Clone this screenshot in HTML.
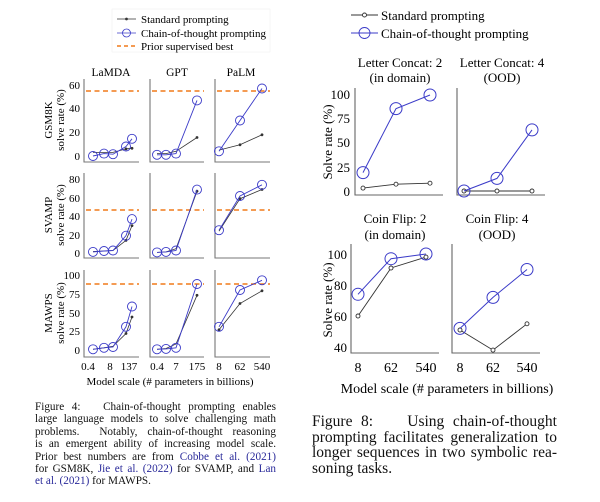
<!DOCTYPE html>
<html><head><meta charset="utf-8"><style>
html,body{margin:0;padding:0;background:#fff;}
svg{display:block;font-family:"Liberation Serif",serif;}
.cap{position:absolute;font-family:"Liberation Serif",serif;color:#111;}
.cap div{text-align:justify;text-align-last:justify;white-space:nowrap;}
.cap div.l{text-align-last:left;}
.cap a{color:#2a2a9a;text-decoration:none;}
</style></head><body>
<div style="position:relative;width:600px;height:502px;overflow:hidden;">
<svg width="600" height="502" viewBox="0 0 600 502" xmlns="http://www.w3.org/2000/svg">
<rect x="112" y="9" width="158" height="43" fill="#fff" stroke="#eee" stroke-width="0.5"/>
<line x1="117" y1="19" x2="136" y2="19" stroke="#333" stroke-width="0.8"/><circle cx="126.5" cy="19" r="1.4" fill="#333"/>
<text x="141" y="23" font-size="11">Standard prompting</text>
<line x1="117" y1="33" x2="136" y2="33" stroke="#3b3bc8" stroke-width="0.8"/><circle cx="126.5" cy="33" r="4" fill="none" stroke="#3b3bc8" stroke-width="0.8"/>
<text x="141" y="37" font-size="11">Chain-of-thought prompting</text>
<line x1="117" y1="46" x2="136" y2="46" stroke="#f07a1a" stroke-width="1.6" stroke-dasharray="4,3"/>
<text x="141" y="50" font-size="11">Prior supervised best</text>

<g font-size="11.5" text-anchor="middle">
<text x="111" y="76">LaMDA</text><text x="177" y="76">GPT</text><text x="241" y="76">PaLM</text>
</g>
<g font-size="11" text-anchor="middle">
<text transform="translate(52,120) rotate(-90)">GSM8K</text>
<text transform="translate(64,120) rotate(-90)">solve rate (%)</text>
<text transform="translate(52,215) rotate(-90)">SVAMP</text>
<text transform="translate(64,215) rotate(-90)">solve rate (%)</text>
<text transform="translate(52,313) rotate(-90)">MAWPS</text>
<text transform="translate(64,313) rotate(-90)">solve rate (%)</text>
</g>
<g font-size="11" text-anchor="end">
<text x="80" y="89">60</text><text x="80" y="112">40</text><text x="80" y="136">20</text><text x="80" y="160">0</text>
<text x="80" y="183">80</text><text x="80" y="202">60</text><text x="80" y="220">40</text><text x="80" y="239">20</text><text x="80" y="257">0</text>
<text x="80" y="279">100</text><text x="80" y="298">75</text><text x="80" y="317">50</text><text x="80" y="335">25</text><text x="80" y="354">0</text>
</g>
<g stroke="#777" stroke-width="1.1" fill="none">
<path d="M84,79V162H139M150,79V162H204M215,79V162H270"/>
<path d="M84,173V258H139M150,173V258H204M215,173V258H270"/>
<path d="M84,270V357H139M150,270V357H204M215,270V357H270"/>
</g>
<g stroke="#f07a1a" stroke-width="1.6" stroke-dasharray="5,3.5">
<path d="M86,91H139M152,91H204M217,91H270"/>
<path d="M86,210H139M152,210H204M217,210H270"/>
<path d="M86,284H139M152,284H204M217,284H270"/>
</g>
<g stroke="#333" stroke-width="0.8" fill="none">
<polyline points="93,152.4 104,152.4 113,152.4 126,148.9 132,148.3"/>
<polyline points="157,153.6 166,153.6 176,151.3 197,137.5"/>
<polyline points="219,150.1 240,144.8 262,134.8"/>
<polyline points="93,251.5 104,251 113,250.5 126,240.4 132,225.6"/>
<polyline points="157,252.4 166,251.9 176,248.7 197,191.3"/>
<polyline points="219,231.1 240,198.7 262,189.5"/>
<polyline points="93,349.3 104,347.8 113,346.3 126,333.5 132,317"/>
<polyline points="157,349.3 166,348.5 176,344 197,295.3"/>
<polyline points="219,329.8 240,303.5 262,290.8"/>
</g>
<g fill="#333">
<circle cx="126" cy="148.9" r="1.4"/><circle cx="132" cy="148.3" r="1.4"/><circle cx="197" cy="137.5" r="1.4"/>
<circle cx="240" cy="144.8" r="1.4"/><circle cx="262" cy="134.8" r="1.4"/>
<circle cx="126" cy="240.4" r="1.4"/><circle cx="132" cy="225.6" r="1.4"/><circle cx="197" cy="191.3" r="1.4"/>
<circle cx="262" cy="189.5" r="1.4"/><circle cx="240" cy="198.7" r="1.4"/>
<circle cx="126" cy="333.5" r="1.4"/><circle cx="132" cy="317" r="1.4"/><circle cx="197" cy="295.3" r="1.4"/>
<circle cx="240" cy="303.5" r="1.4"/><circle cx="262" cy="290.8" r="1.4"/><circle cx="219" cy="329.8" r="1.4"/>
</g>
<g stroke="#3b3bc8" stroke-width="0.9" fill="none">
<polyline points="93,156 104,153.6 113,154.2 126,146.5 132,138.8"/>
<polyline points="157,154.8 166,154.8 176,153.6 197,100.4"/>
<polyline points="219,151.3 240,120.5 262,88.5"/>
<polyline points="93,251.9 104,251 113,250.5 126,235.7 132,219.1"/>
<polyline points="157,252.4 166,251.9 176,250.5 197,189.6"/>
<polyline points="219,230.2 240,196 262,184.8"/>
<polyline points="93,349.3 104,347.8 113,347 126,326.8 132,306.5"/>
<polyline points="157,349.3 166,348.9 176,347.8 197,284"/>
<polyline points="219,326.8 240,290 262,280.3"/>
</g>
<g stroke="#3b3bc8" stroke-width="0.9" fill="none">
<circle cx="93" cy="156" r="4.5"/><circle cx="104" cy="153.6" r="4.5"/><circle cx="113" cy="154.2" r="4.5"/><circle cx="126" cy="146.5" r="4.5"/><circle cx="132" cy="138.8" r="4.5"/>
<circle cx="157" cy="154.8" r="4.5"/><circle cx="166" cy="154.8" r="4.5"/><circle cx="176" cy="153.6" r="4.5"/><circle cx="197" cy="100.4" r="4.5"/>
<circle cx="219" cy="151.3" r="4.5"/><circle cx="240" cy="120.5" r="4.5"/><circle cx="262" cy="88.5" r="4.5"/>
<circle cx="93" cy="251.9" r="4.5"/><circle cx="104" cy="251" r="4.5"/><circle cx="113" cy="250.5" r="4.5"/><circle cx="126" cy="235.7" r="4.5"/><circle cx="132" cy="219.1" r="4.5"/>
<circle cx="157" cy="252.4" r="4.5"/><circle cx="166" cy="251.9" r="4.5"/><circle cx="176" cy="250.5" r="4.5"/><circle cx="197" cy="189.6" r="4.5"/>
<circle cx="219" cy="230.2" r="4.5"/><circle cx="240" cy="196" r="4.5"/><circle cx="262" cy="184.8" r="4.5"/>
<circle cx="93" cy="349.3" r="4.5"/><circle cx="104" cy="347.8" r="4.5"/><circle cx="113" cy="347" r="4.5"/><circle cx="126" cy="326.8" r="4.5"/><circle cx="132" cy="306.5" r="4.5"/>
<circle cx="157" cy="349.3" r="4.5"/><circle cx="166" cy="348.9" r="4.5"/><circle cx="176" cy="347.8" r="4.5"/><circle cx="197" cy="284" r="4.5"/>
<circle cx="219" cy="326.8" r="4.5"/><circle cx="240" cy="290" r="4.5"/><circle cx="262" cy="280.3" r="4.5"/>
</g>
<g font-size="11" text-anchor="middle">
<text x="88" y="370">0.4</text><text x="110" y="370">8</text><text x="129" y="370">137</text>
<text x="157" y="370">0.4</text><text x="176" y="370">7</text><text x="197" y="370">175</text>
<text x="219" y="370">8</text><text x="240" y="370">62</text><text x="262" y="370">540</text>
<text x="170" y="385">Model scale (# parameters in billions)</text>
</g>

<line x1="351" y1="15" x2="378" y2="15" stroke="#333" stroke-width="0.9"/><circle cx="364.5" cy="15" r="2" fill="#fff" stroke="#333" stroke-width="0.9"/>
<text x="381" y="20" font-size="13">Standard prompting</text>
<line x1="351" y1="33" x2="378" y2="33" stroke="#3b3bc8" stroke-width="0.9"/><circle cx="364.5" cy="33" r="5.5" fill="none" stroke="#3b3bc8" stroke-width="0.9"/>
<text x="381" y="38" font-size="13">Chain-of-thought prompting</text>

<g font-size="13" text-anchor="middle">
<text x="400" y="67">Letter Concat: 2</text><text x="400" y="82">(in domain)</text>
<text x="502" y="67">Letter Concat: 4</text><text x="502" y="82">(OOD)</text>
<text x="395" y="223">Coin Flip: 2</text><text x="395" y="239">(in domain)</text>
<text x="497" y="223">Coin Flip: 4</text><text x="497" y="239">(OOD)</text>
</g>
<g font-size="13" text-anchor="middle">
<text transform="translate(332,142) rotate(-90)">Solve rate (%)</text>
<text transform="translate(332,300) rotate(-90)">Solve rate (%)</text>
</g>
<g font-size="13" text-anchor="end">
<text x="350" y="99">100</text><text x="350" y="123">75</text><text x="350" y="147">50</text><text x="350" y="172">25</text><text x="350" y="196">0</text>
<text x="347" y="259">100</text><text x="347" y="290">80</text><text x="347" y="321">60</text><text x="347" y="352">40</text>
</g>
<g stroke="#666" stroke-width="1.1" fill="none">
<path d="M355,88V195H443M457,88V195H545"/>
<path d="M351,244V353H439M452,244V353H540"/>
</g>
<g stroke="#333" stroke-width="0.9" fill="none">
<polyline points="363,188.1 396,184.2 430,183.2"/>
<polyline points="464,191 497,191 532,191"/>
<polyline points="358,316 391,268 426,257.1"/>
<polyline points="460,330 493,350.1 527,323.8"/>
</g>
<g stroke="#333" stroke-width="0.9" fill="#fff">
<circle cx="363" cy="188.1" r="2"/><circle cx="396" cy="184.2" r="2"/><circle cx="430" cy="183.2" r="2"/>
<circle cx="464" cy="191" r="2"/><circle cx="497" cy="191" r="2"/><circle cx="532" cy="191" r="2"/>
<circle cx="358" cy="316" r="2"/><circle cx="391" cy="268" r="2"/><circle cx="426" cy="257.1" r="2"/>
<circle cx="460" cy="330" r="2"/><circle cx="493" cy="350.1" r="2"/><circle cx="527" cy="323.8" r="2"/>
</g>
<g stroke="#3b3bc8" stroke-width="1" fill="none">
<polyline points="363,172.6 396,108.6 430,95"/>
<polyline points="464,191 497,178.4 532,129.9"/>
<polyline points="358,294.3 391,258.7 426,254"/>
<polyline points="460,328.4 493,297.4 527,269.5"/>
<circle cx="363" cy="172.6" r="6"/><circle cx="396" cy="108.6" r="6"/><circle cx="430" cy="95" r="6"/>
<circle cx="464" cy="191" r="6"/><circle cx="497" cy="178.4" r="6"/><circle cx="532" cy="129.9" r="6"/>
<circle cx="358" cy="294.3" r="6"/><circle cx="391" cy="258.7" r="6"/><circle cx="426" cy="254" r="6"/>
<circle cx="460" cy="328.4" r="6"/><circle cx="493" cy="297.4" r="6"/><circle cx="527" cy="269.5" r="6"/>
</g>
<g font-size="14" text-anchor="middle">
<text x="358" y="372">8</text><text x="391" y="372">62</text><text x="426" y="372">540</text>
<text x="460" y="372">8</text><text x="493" y="372">62</text><text x="527" y="372">540</text>
<text x="447" y="393">Model scale (# parameters in billions)</text>
</g>
</svg>
<div class="cap" style="left:35px;top:401px;width:241px;font-size:11.2px;line-height:12.4px;">
<div>Figure 4: &nbsp; Chain-of-thought prompting enables</div>
<div>large language models to solve challenging math</div>
<div>problems. &nbsp;Notably, chain-of-thought reasoning</div>
<div>is an emergent ability of increasing model scale.</div>
<div>Prior best numbers are from <a>Cobbe et al. (2021)</a></div>
<div>for GSM8K, <a>Jie et al. (2022)</a> for SVAMP, and <a>Lan</a></div>
<div class="l"><a>et al. (2021)</a> for MAWPS.</div>
</div>
<div class="cap" style="left:312px;top:414px;width:245px;font-size:15.5px;line-height:15.7px;">
<div>Figure 8: &nbsp;&nbsp; Using chain-of-thought</div>
<div>prompting facilitates generalization to</div>
<div>longer sequences in two symbolic rea-</div>
<div class="l">soning tasks.</div>
</div>
</div>
</body></html>
